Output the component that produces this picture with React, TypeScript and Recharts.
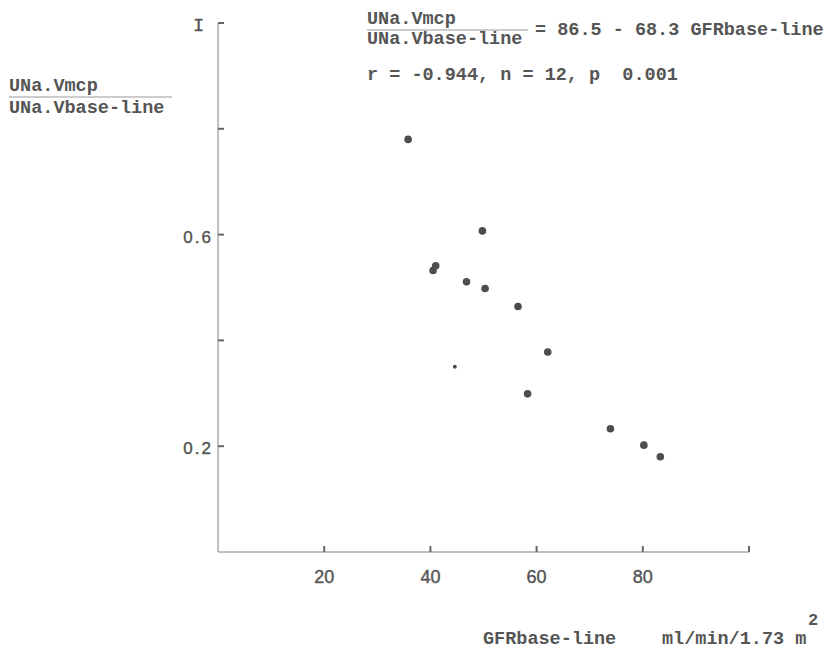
import { ScatterChart, Scatter, XAxis, YAxis } from 'recharts'

// GFR base-line (ml/min/1.73 m2) vs UNa.V ratio
const gfr = [35.8, 49.8, 40.5, 41.0, 46.8, 50.3, 56.5, 62.1, 58.3, 73.9, 80.2, 83.3]
const ratio = [0.78, 0.607, 0.532, 0.541, 0.511, 0.498, 0.464, 0.378, 0.299, 0.233, 0.202, 0.18]
// faint small dot
const faintGfr = [44.6]
const faintRatio = [0.35]

const xTicks = [20, 40, 60, 80, 100]
const xTickLabels = ['20', '40', '60', '80', '']
const yTicks = [0.2, 0.4, 0.6, 0.8, 1]
const yTickLabels = ['0.2', '', '0.6', '', 'I']

const points = gfr.map((x, i) => ({ x, y: ratio[i] }))
const faint = faintGfr.map((x, i) => ({ x, y: faintRatio[i] }))

const ink = '#555'
const mono = '"Liberation Mono", "DejaVu Sans Mono", monospace'
const sans = '"Liberation Sans", Arial, sans-serif'

const XTick = (props: any) => {
  const { x, y, payload } = props
  const label = xTickLabels[xTicks.indexOf(payload.value)]
  return (
    <g>
      <line x1={x} y1={y} x2={x} y2={y - 6} stroke="#666" strokeWidth={2} />
      <text x={x} y={y + 31} textAnchor="middle" fontFamily={sans} fontSize={18} fill={ink} stroke={ink} strokeWidth={0.4}>
        {label}
      </text>
    </g>
  )
}

const YTick = (props: any) => {
  const { x, y, payload } = props
  const label = yTickLabels[yTicks.indexOf(payload.value)]
  const isTop = label === 'I'
  return (
    <g>
      <line x1={x} y1={y} x2={x + 6} y2={y} stroke="#666" strokeWidth={2} />
      <text
        x={isTop ? x - 14 : x - 5}
        y={y + 8}
        textAnchor="end"
        fontFamily={isTop ? mono : sans}
        fontSize={isTop ? 18 : 17}
        letterSpacing={isTop ? 0 : 2}
        fill={ink}
        stroke={ink}
        strokeWidth={0.4}
      >
        {label}
      </text>
    </g>
  )
}

const dot = (r: number) => (props: any) => <circle cx={props.cx} cy={props.cy} r={r} fill="#4d4d4d" />

export default function App() {
  return (
    <div style={{ position: 'absolute', left: 0, top: 0, width: 829, height: 651, background: '#fff' }}>
      <ScatterChart width={829} height={651} margin={{ top: 23, right: 80, left: 158, bottom: 59 }}>
        <XAxis
          type="number"
          dataKey="x"
          domain={[0, 100]}
          ticks={xTicks}
          height={40}
          tickSize={0}
          tickMargin={0}
          tickLine={false}
          axisLine={{ stroke: '#aaa', strokeWidth: 1.5 }}
          tick={<XTick />}
          interval={0}
        />
        <YAxis
          type="number"
          dataKey="y"
          domain={[0, 1]}
          ticks={yTicks}
          width={60}
          tickSize={0}
          tickMargin={0}
          tickLine={false}
          axisLine={{ stroke: '#aaa', strokeWidth: 1.5 }}
          tick={<YTick />}
          interval={0}
        />
        <Scatter data={points} shape={dot(3.8)} isAnimationActive={false} />
        <Scatter data={faint} shape={dot(2)} isAnimationActive={false} />
      </ScatterChart>
      <svg
        width={829}
        height={651}
        style={{ position: 'absolute', left: 0, top: 0, pointerEvents: 'none' }}
        fontFamily={mono}
        fontWeight="bold"
        fontSize={18.5}
        fill={ink}
      >
        {/* y-axis label */}
        <text x={9} y={91}>UNa.Vmcp</text>
        <line x1={9} y1={97} x2={172} y2={97} stroke="#999" strokeWidth={1.2} />
        <text x={9} y={113}>UNa.Vbase-line</text>
        {/* regression equation */}
        <text x={367} y={24}>UNa.Vmcp</text>
        <line x1={367} y1={30} x2={528} y2={30} stroke="#999" strokeWidth={1.2} />
        <text x={367} y={44}>UNa.Vbase-line</text>
        <text x={535} y={35}>= 86.5 - 68.3 GFRbase-line</text>
        <text x={367} y={80} xmlSpace="preserve">r = -0.944, n = 12, p  0.001</text>
        {/* x-axis label */}
        <text x={483} y={644}>GFRbase-line</text>
        <text x={662} y={644}>ml/min/1.73 m</text>
        <text x={808} y={625} fontSize={17}>2</text>
      </svg>
    </div>
  )
}
